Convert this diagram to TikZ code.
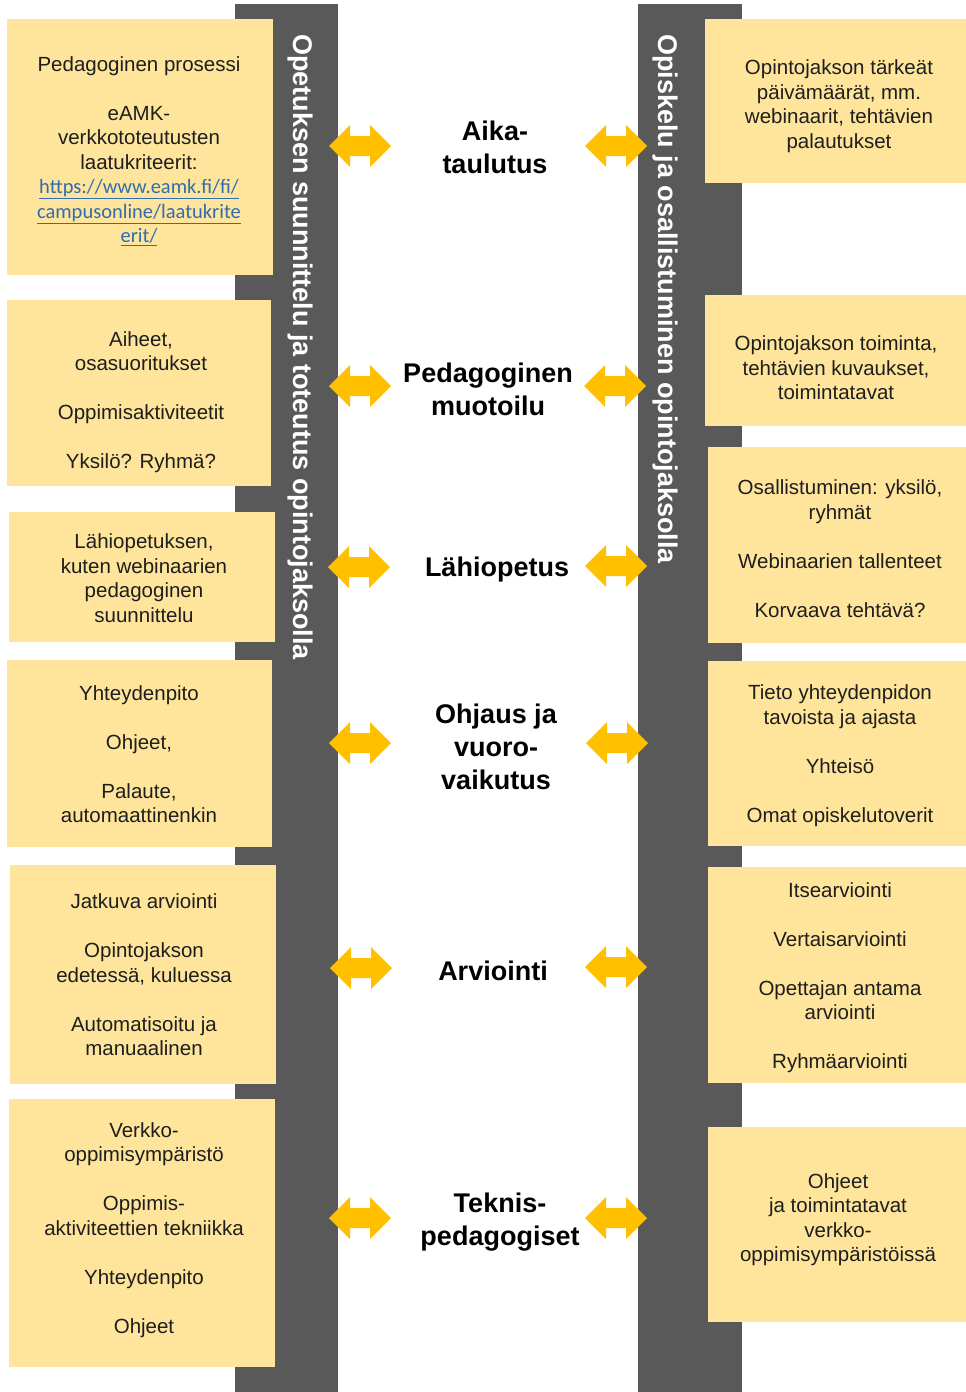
\documentclass[tikz,border=0pt]{standalone}
\usepackage{fontspec}
\setmainfont{Liberation Sans}
\newfontfamily\linkfont{Carlito}
\definecolor{boxfill}{HTML}{FFE59B}
\definecolor{barfill}{HTML}{595959}
\definecolor{arrowgold}{HTML}{FFC000}
\definecolor{txt}{HTML}{1E1E1E}
\definecolor{linkblue}{HTML}{2F6DB0}
\tikzset{
  box/.style={fill=boxfill, draw=none, inner sep=0pt, anchor=north west},
  bar/.style={fill=barfill, draw=none},
  boxtext/.style={align=center, text=txt, inner sep=0pt, yshift=-1.5pt, font=\fontsize{20.5}{24.5}\selectfont},
  midlabel/.style={align=center, text=black, inner sep=0pt, yshift=-2pt, font=\bfseries\fontsize{27}{33}\selectfont},
  vtext/.style={rotate=-90, anchor=west, inner sep=0pt, text=white, font=\bfseries\fontsize{27}{33}\selectfont},
  garrow/.style={fill=arrowgold, draw=none},
}
\newcommand\goldarrow[3]{%
  \coordinate (#1) at (#2,#3);
  \fill[garrow, shift={(#1)}] (-31,0) -- (-10,-21) -- (-10,-10) -- (10,-10) -- (10,-21) -- (31,0)
    -- (10,21) -- (10,10) -- (-10,10) -- (-10,21) -- cycle;}
\newcommand\lnk[1]{\textcolor{linkblue}{\linkfont\fontsize{20.5}{24.5}\selectfont\underline{#1}}}
\begin{document}
\begin{tikzpicture}[x=1pt, y=-1pt]
\useasboundingbox (0,0) rectangle (966,1392);
\fill[white] (0,0) rectangle (966,1392);

% bars
\fill[bar] (235,4) rectangle (338,1392);
\fill[bar] (638,4) rectangle (742,1392);
\node[vtext] (Lbar) at (300,34) {Opetuksen suunnittelu ja toteutus opintojaksolla};
\node[vtext] (Rbar) at (665,34) {Opiskelu ja osallistuminen opintojaksolla};

% left boxes
\node[box, minimum width=266pt, minimum height=256pt] (L1) at (7,19) {};
\node[box, minimum width=264pt, minimum height=186pt] (L2) at (7,300) {};
\node[box, minimum width=266pt, minimum height=130pt] (L3) at (9,512) {};
\node[box, minimum width=265pt, minimum height=187pt] (L4) at (7,660) {};
\node[box, minimum width=266pt, minimum height=219pt] (L5) at (10,865) {};
\node[box, minimum width=266pt, minimum height=268pt] (L6) at (9,1099) {};

% right boxes
\node[box, minimum width=261pt, minimum height=164pt] (R1) at (705,19) {};
\node[box, minimum width=261pt, minimum height=131pt] (R2) at (705,295) {};
\node[box, minimum width=258pt, minimum height=196pt] (R3) at (708,447) {};
\node[box, minimum width=258pt, minimum height=185pt] (R4) at (708,661) {};
\node[box, minimum width=258pt, minimum height=216pt] (R5) at (708,867) {};
\node[box, minimum width=258pt, minimum height=195pt] (R6) at (708,1127) {};

% left texts
\node[boxtext] (L1t) at (139,149.5) {Pedagoginen prosessi\\[24.5pt]eAMK-\\verkkototeutusten\\laatukriteerit:\\\lnk{https://www.eamk.fi/fi/}\\\lnk{campusonline/laatukrite}\\\lnk{erit/}};
\node[boxtext] (L2t) at (141,400.5) {Aiheet,\\osasuoritukset\\[24.5pt]Oppimisaktiviteetit\\[24.5pt]Yksilö? Ryhmä?};
\node[boxtext] (L3t) at (144,576.5) {Lähiopetuksen,\\kuten webinaarien\\pedagoginen\\suunnittelu};
\node[boxtext] (L4t) at (139,752.5) {Yhteydenpito\\[24.5pt]Ohjeet,\\[24.5pt]Palaute,\\automaattinenkin};
\node[boxtext] (L5t) at (144,973.5) {Jatkuva arviointi\\[24.5pt]Opintojakson\\edetessä, kuluessa\\[24.5pt]Automatisoitu ja\\manuaalinen};
\node[boxtext] (L6t) at (144,1228.5) {Verkko-\\oppimisympäristö\\[24.5pt]Oppimis-\\aktiviteettien tekniikka\\[24.5pt]Yhteydenpito\\[24.5pt]Ohjeet};

% right texts
\node[boxtext] (R1t) at (839,104.5) {Opintojakson tärkeät\\päivämäärät, mm.\\webinaarit, tehtävien\\palautukset};
\node[boxtext] (R2t) at (836,366.5) {Opintojakson toiminta,\\tehtävien kuvaukset,\\toimintatavat};
\node[boxtext] (R3t) at (840,547) {Osallistuminen: yksilö,\\ryhmät\\[24.5pt]Webinaarien tallenteet\\[24.5pt]Korvaava tehtävä?};
\node[boxtext] (R4t) at (840,754) {Tieto yhteydenpidon\\tavoista ja ajasta\\[24.5pt]Yhteisö\\[24.5pt]Omat opiskelutoverit};
\node[boxtext] (R5t) at (840,976) {Itsearviointi\\[24.5pt]Vertaisarviointi\\[24.5pt]Opettajan antama\\arviointi\\[24.5pt]Ryhmäarviointi};
\node[boxtext] (R6t) at (838,1218) {Ohjeet\\ja toimintatavat\\verkko-\\oppimisympäristöissä};

% middle labels
\node[midlabel] (C1) at (495,145.5) {Aika-\\taulutus};
\node[midlabel] (C2) at (488,387.5) {Pedagoginen\\muotoilu};
\node[midlabel] (C3) at (497,568) {Lähiopetus};
\node[midlabel] (C4) at (496,745) {Ohjaus ja\\vuoro-\\vaikutus};
\node[midlabel] (C5) at (493,969) {Arviointi};
\node[midlabel] (C6) at (500,1220) {Teknis-\\pedagogiset};

% arrows
\goldarrow{A1l}{360}{146}\goldarrow{A1r}{616}{146}
\goldarrow{A2l}{360}{386}\goldarrow{A2r}{615}{386}
\goldarrow{A3l}{359}{567}\goldarrow{A3r}{616}{566}
\goldarrow{A4l}{360}{743}\goldarrow{A4r}{617}{743}
\goldarrow{A5l}{361}{968}\goldarrow{A5r}{616}{967}
\goldarrow{A6l}{360}{1218}\goldarrow{A6r}{616}{1218}
\end{tikzpicture}
\end{document}
